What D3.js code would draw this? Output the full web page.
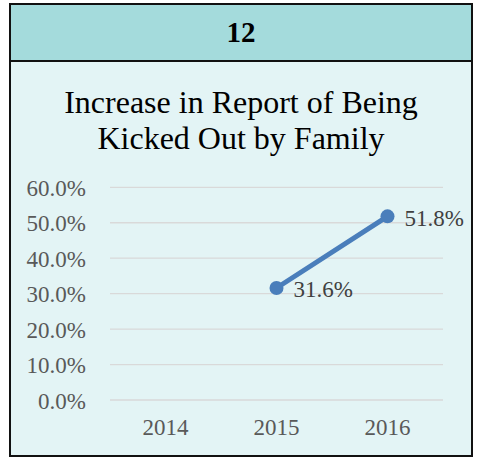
<!DOCTYPE html>
<html><head><meta charset="utf-8">
<script src="https://cdn.jsdelivr.net/npm/d3@7"></script>
<style>body{margin:0;background:#fff;}svg{display:block;}</style>
</head><body>
<script>
const headerText = "12";
const titleLines = ["Increase in Report of Being", "Kicked Out by Family"];
const categories = ["2014", "2015", "2016"];
const values = [null, 0.316, 0.518];
const yTicks = [0, 0.1, 0.2, 0.3, 0.4, 0.5, 0.6];

const W = 484, H = 459;
const svg = d3.select("body").append("svg").attr("width", W).attr("height", H);
const font = "'Liberation Serif','Times New Roman',serif";

// panel
svg.append("rect").attr("x", 10).attr("y", 4).attr("width", 462).attr("height", 57).attr("fill", "#a4dbdc");
svg.append("rect").attr("x", 10).attr("y", 61).attr("width", 462).attr("height", 395).attr("fill", "#e3f4f5");
svg.append("rect").attr("x", 10).attr("y", 4).attr("width", 462).attr("height", 452)
  .attr("fill", "none").attr("stroke", "#111").attr("stroke-width", 2);
svg.append("line").attr("x1", 10).attr("x2", 472).attr("y1", 61).attr("y2", 61).attr("stroke", "#111").attr("stroke-width", 2);

svg.append("text").attr("x", 241).attr("y", 42).attr("text-anchor", "middle")
  .attr("font-family", font).attr("font-weight", "bold").attr("font-size", 29).attr("fill", "#000").text(headerText);

svg.selectAll("text.title").data(titleLines).enter().append("text").attr("class", "title")
  .attr("x", 241).attr("y", (d, i) => 113 + i * 36).attr("text-anchor", "middle")
  .attr("font-family", font).attr("font-size", 32).attr("fill", "#000").text(d => d);

const x = d3.scaleBand().domain(categories).range([110, 443]);
const y = d3.scaleLinear().domain([0, 0.6]).range([400, 187.3]);

const g = svg.append("g");
g.selectAll("line.grid").data(yTicks).enter().append("line").attr("class", "grid")
  .attr("x1", 110).attr("x2", 443).attr("y1", d => y(d)).attr("y2", d => y(d))
  .attr("stroke", "#d9d9d9").attr("stroke-width", 1.3);

const yAxis = d3.axisLeft(y).tickValues(yTicks).tickFormat(d3.format(".1%")).tickSize(0).tickPadding(0);
const ya = svg.append("g").attr("transform", "translate(86,0)").call(yAxis);
ya.select(".domain").remove();
ya.selectAll("text").attr("font-family", font).attr("font-size", 23).attr("fill", "#595959").attr("dy", "0.35em");

const xAxis = d3.axisBottom(x).tickSize(0).tickPadding(0);
const xa = svg.append("g").attr("transform", "translate(0,418)").call(xAxis);
xa.select(".domain").remove();
xa.selectAll("text").attr("font-family", font).attr("font-size", 23).attr("fill", "#595959").attr("dy", "0.74em");

const pts = categories.map((c, i) => ({c, v: values[i]})).filter(d => d.v != null);
const line = d3.line().x(d => x(d.c) + x.bandwidth() / 2).y(d => y(d.v));
svg.append("path").datum(pts).attr("d", line).attr("fill", "none").attr("stroke", "#4a7ebb").attr("stroke-width", 5).attr("stroke-linecap", "round");
svg.selectAll("circle.pt").data(pts).enter().append("circle").attr("class", "pt")
  .attr("cx", d => x(d.c) + x.bandwidth() / 2).attr("cy", d => y(d.v)).attr("r", 7).attr("fill", "#4a7ebb");
svg.selectAll("text.lbl").data(pts).enter().append("text").attr("class", "lbl")
  .attr("x", d => x(d.c) + x.bandwidth() / 2 + 17).attr("y", d => y(d.v)).attr("dy", "0.4em")
  .attr("font-family", font).attr("font-size", 23).attr("fill", "#404040").text(d => d3.format(".1%")(d.v));
</script>
</body></html>
